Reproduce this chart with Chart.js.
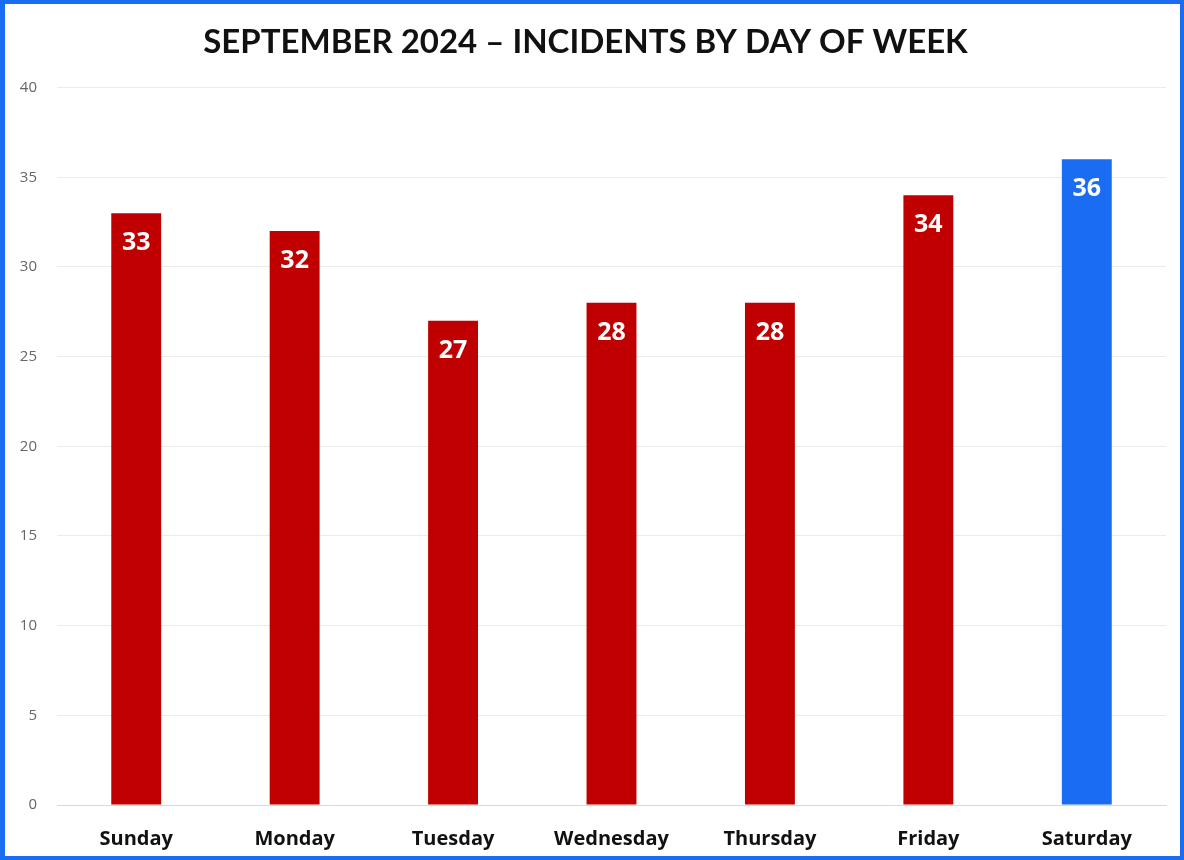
<!DOCTYPE html>
<html>
<head>
  <meta charset="utf-8">
  <title>Incidents by day of week</title>
  <script src="https://cdn.jsdelivr.net/npm/chart.js@4.4.1/dist/chart.umd.min.js"></script>
  <style>
    html, body { margin: 0; padding: 0; background: #fff; }
    #frame {
      width: 1184px; height: 860px;
      box-sizing: border-box;
      border: 4px solid #1a6cf2;
      border-left-width: 5px;
      background: #fff;
    }
    #frame canvas { display: block; }
  </style>
</head>
<body>
  <div id="frame"><canvas id="incidents" width="1175" height="852"></canvas></div>

  <script>
    // incidents per weekday, September 2024
    const days = ["Sunday", "Monday", "Tuesday", "Wednesday", "Thursday", "Friday", "Saturday"];
    const incidents = [33, 32, 27, 28, 28, 34, 36];
    const yTicks = [0, 5, 10, 15, 20, 25, 30, 35, 40];

    // highest day gets the blue bar
    const peak = Math.max(...incidents);
    const barColors = incidents.map(v => v === peak ? "#1a6cf2" : "#c00000");

    // white value labels near the top of each bar
    const barValues = {
      id: "barValues",
      afterDatasetsDraw(chart) {
        const ctx = chart.ctx;
        const meta = chart.getDatasetMeta(0);
        ctx.save();
        ctx.font = "bold 25px 'Open Sans', sans-serif";
        ctx.fillStyle = "#ffffff";
        ctx.textAlign = "center";
        ctx.textBaseline = "middle";
        meta.data.forEach((bar, i) => {
          ctx.fillText(String(incidents[i]), bar.x, bar.y + 30);
        });
        ctx.restore();
      }
    };

    new Chart(document.getElementById("incidents"), {
      type: "bar",
      data: {
        labels: days,
        datasets: [{
          data: incidents,
          backgroundColor: barColors,
          barPercentage: 0.63,
          categoryPercentage: 0.5
        }]
      },
      options: {
        responsive: false,
        animation: false,
        layout: { padding: { top: 0, right: 14, bottom: 0, left: 0 } },
        plugins: {
          legend: { display: false },
          tooltip: { enabled: false },
          title: {
            display: true,
            text: "SEPTEMBER 2024 – INCIDENTS BY DAY OF WEEK",
            color: "#111",
            font: { family: "Lato", size: 33, weight: "bold" },
            padding: { top: 19, bottom: 25 }
          }
        },
        scales: {
          x: {
            afterFit(scale) { scale.height = 51; },
            grid: { display: false },
            border: { display: true, color: "#d9d9d9" },
            ticks: {
              color: "#111",
              padding: 14,
              font: { family: "'Open Sans'", size: 20, weight: "bold" }
            }
          },
          y: {
            min: 0,
            max: 40,
            afterBuildTicks(scale) {
              scale.ticks = yTicks.map(v => ({ value: v }));
            },
            afterFit(scale) { scale.width = 52; },
            grid: { color: "#ebebeb", drawTicks: false },
            border: { display: false },
            ticks: {
              color: "#666",
              padding: 20,
              font: { family: "'Open Sans'", size: 15 }
            }
          }
        }
      },
      plugins: [barValues]
    });
  </script>
</body>
</html>
